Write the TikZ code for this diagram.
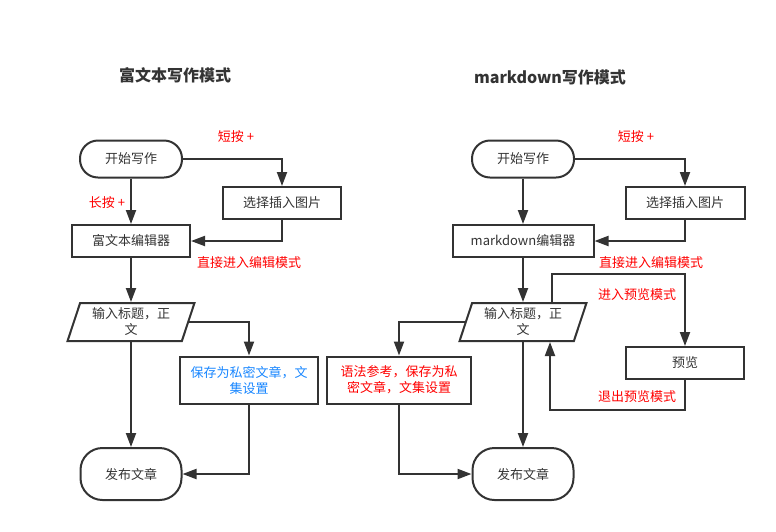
\documentclass[tikz,border=0pt]{standalone}
\usepackage{fontspec}
\setmainfont{Noto Sans CJK SC}
\usetikzlibrary{shapes.geometric,arrows.meta}

\definecolor{linegray}{RGB}{51,51,51}
\definecolor{textgray}{RGB}{51,51,51}
\definecolor{noteblue}{RGB}{24,134,255}

\tikzset{
  box/.style={draw=linegray, line width=2pt, minimum height=32pt, inner sep=0pt,
    text=textgray, align=center, font=\fontsize{13}{16}\selectfont},
  term/.style={box, rounded corners=18pt, minimum width=102pt, minimum height=37pt},
  termend/.style={box, rounded corners=22pt, minimum width=101pt, minimum height=52pt},
  para/.style={box, trapezium, trapezium left angle=71, trapezium right angle=109,
    trapezium stretches=true, minimum width=128pt, minimum height=38pt},
  tag/.style={text=red, font=\fontsize{13}{16}\selectfont},
  title/.style={text=textgray, font=\bfseries\fontsize{16}{19}\selectfont},
  flow/.style={draw=linegray, line width=2pt, -{Triangle[length=14pt,width=10pt]}},
}

\begin{document}
\begin{tikzpicture}[x=1pt, y=-1pt]
  \useasboundingbox (0,0) rectangle (776,531);

  % rich text column
  \node[title] (title1) at (175,75) {富文本写作模式};
  \node[term] (start1) at (131,159) {开始写作};
  \node[box, minimum width=118pt] (pick1) at (282,203) {选择插入图片};
  \node[box, minimum width=118pt] (edit1) at (131,241) {富文本编辑器};
  \node[para] (in1) at (131,322) {输入标题，正\\文};
  \node[box, text=noteblue, minimum width=138pt, minimum height=47pt] (save1) at (249,380) {保存为私密文章，文\\集设置};
  \node[termend] (pub1) at (131,474) {发布文章};

  % labels of the rich text column
  \node[tag] (short1) at (236,137) {短按 +};
  \node[tag] (long1) at (107,203) {长按 +};
  \node[tag] (direct1) at (249,263) {直接进入编辑模式};

  % connectors of the rich text column
  \draw[flow] (start1) -- (edit1);
  \draw[flow] (start1) -| (pick1);
  \draw[flow] (pick1) |- (edit1);
  \draw[flow] (edit1) -- (in1);
  \draw[flow] (in1) -| (save1);
  \draw[flow] (in1) -- (pub1);
  \draw[flow] (save1) |- (pub1);

  % markdown column
  \node[title] (title2) at (550,77) {markdown写作模式};
  \node[term] (start2) at (523,159) {开始写作};
  \node[box, minimum width=119pt] (pick2) at (685,203) {选择插入图片};
  \node[box, minimum width=141pt] (edit2) at (523,241) {markdown编辑器};
  \node[para] (in2) at (523,322) {输入标题，正\\文};
  \node[box, minimum width=118pt] (view2) at (685,363) {预览};
  \node[box, text=red, minimum width=144pt, minimum height=47pt] (save2) at (399,380) {语法参考，保存为私\\密文章，文集设置};
  \node[termend] (pub2) at (523,474) {发布文章};

  % labels of the markdown column
  \node[tag] (short2) at (636,137) {短按 +};
  \node[tag] (direct2) at (651,263) {直接进入编辑模式};
  \node[tag] (enter2) at (637,295) {进入预览模式};
  \node[tag] (exit2) at (637,397) {退出预览模式};

  % corners of the preview loop
  \coordinate (looptop) at (552,274);
  \coordinate (loopbot) at (550,410);

  % connectors of the markdown column
  \draw[flow] (start2) -- (edit2);
  \draw[flow] (start2) -| (pick2);
  \draw[flow] (pick2) |- (edit2);
  \draw[flow] (edit2) -- (in2);
  \draw[flow] (in2.north -| looptop) -- (looptop) -| (view2);
  \draw[flow] (view2) |- (loopbot) -- (in2.south -| loopbot);
  \draw[flow] (in2) -| (save2);
  \draw[flow] (in2) -- (pub2);
  \draw[flow] (save2) |- (pub2);
\end{tikzpicture}
\end{document}
